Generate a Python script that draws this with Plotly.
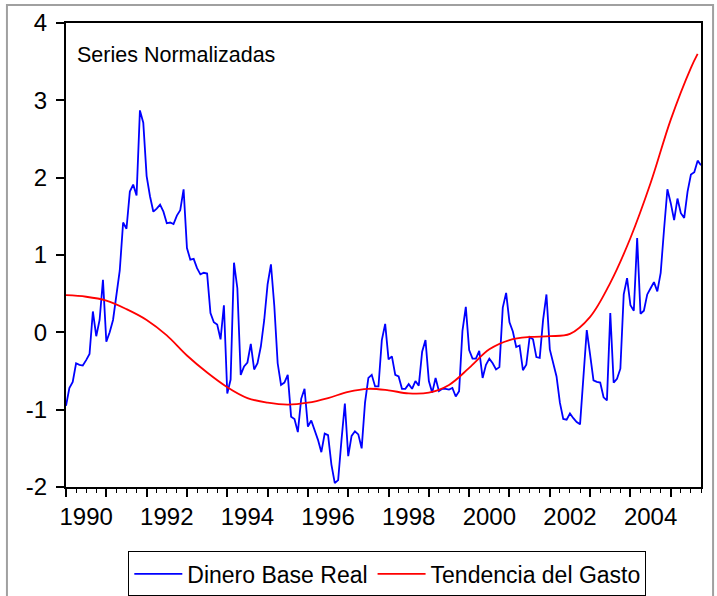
import plotly.graph_objects as go

# ---- data (monthly, starting 1990M01) ----
start_year = 1990
dinero_base_real = [
    -0.95, -0.72, -0.64, -0.40, -0.42, -0.43, -0.36, -0.28, 0.27, -0.05, 0.16, 0.68,
    -0.12, 0.00, 0.16, 0.45, 0.80, 1.42, 1.34, 1.82, 1.91, 1.77, 2.87, 2.71,
    2.02, 1.76, 1.56, 1.60, 1.65, 1.56, 1.41, 1.42, 1.40, 1.51, 1.58, 1.85,
    1.09, 0.94, 0.95, 0.83, 0.75, 0.77, 0.76, 0.25, 0.13, 0.10, -0.09, 0.35,
    -0.79, -0.61, 0.90, 0.57, -0.55, -0.44, -0.39, -0.15, -0.48, -0.40, -0.18, 0.16,
    0.62, 0.88, 0.34, -0.40, -0.68, -0.65, -0.55, -1.09, -1.12, -1.29, -0.86, -0.73,
    -1.22, -1.14, -1.26, -1.39, -1.55, -1.31, -1.33, -1.71, -1.95, -1.91, -1.39, -0.92,
    -1.60, -1.34, -1.28, -1.32, -1.50, -0.91, -0.59, -0.55, -0.70, -0.70, -0.10, 0.11,
    -0.35, -0.31, -0.55, -0.57, -0.73, -0.73, -0.67, -0.73, -0.63, -0.69, -0.25, -0.10,
    -0.63, -0.78, -0.59, -0.76, -0.73, -0.73, -0.74, -0.72, -0.83, -0.76, 0.02, 0.33,
    -0.23, -0.34, -0.34, -0.24, -0.59, -0.42, -0.34, -0.40, -0.48, -0.45, 0.32, 0.51,
    0.13, 0.01, -0.19, -0.17, -0.49, -0.42, -0.06, -0.09, -0.32, -0.33, 0.16, 0.49,
    -0.22, -0.40, -0.57, -0.91, -1.12, -1.13, -1.05, -1.11, -1.16, -1.19, -0.57, 0.03,
    -0.29, -0.62, -0.64, -0.65, -0.84, -0.88, 0.25, -0.65, -0.60, -0.47, 0.49, 0.70,
    0.35, 0.28, 1.22, 0.24, 0.28, 0.49, 0.57, 0.65, 0.53, 0.77, 1.33, 1.85,
    1.67, 1.45, 1.73, 1.54, 1.48, 1.82, 2.04, 2.07, 2.22, 2.16,
]
# trend read at selected months (month index from 1990M01)
tendencia_meses = [0, 6, 12, 18, 24, 30, 36, 42, 48, 54, 60, 66, 72, 78, 84, 90, 96,
                   102, 108, 114, 120, 126, 132, 138, 144, 150, 156, 162, 168, 174,
                   180, 186, 188]
tendencia_gasto = [0.48, 0.46, 0.41, 0.30, 0.16, -0.04, -0.30, -0.52, -0.71, -0.85,
                   -0.91, -0.935, -0.91, -0.85, -0.77, -0.73, -0.75, -0.79, -0.78,
                   -0.68, -0.46, -0.22, -0.10, -0.06, -0.05, -0.02, 0.20, 0.64, 1.22,
                   1.93, 2.75, 3.42, 3.60]
year_label_vals = [1990, 1992, 1994, 1996, 1998, 2000, 2002, 2004]
y_ticks = [-2, -1, 0, 1, 2, 3, 4]

x_blue = [start_year + i / 12 for i in range(len(dinero_base_real))]
x_red = [start_year + m / 12 for m in tendencia_meses]
x_end = x_blue[-1]

FONT = "Liberation Sans, Arial, sans-serif"

fig = go.Figure()
fig.add_trace(go.Scatter(x=x_blue, y=dinero_base_real, mode="lines",
                         name="Dinero Base Real",
                         line=dict(color="#0000FF", width=1.8)))
fig.add_trace(go.Scatter(x=x_red, y=tendencia_gasto, mode="lines",
                         name="Tendencia del Gasto",
                         line=dict(color="#FF0000", width=1.8, shape="spline",
                                   smoothing=1.0)))
# invisible trace to host the label axis
fig.add_trace(go.Scatter(x=[start_year, x_end], y=[None, None], xaxis="x2",
                         showlegend=False, hoverinfo="skip"))

fig.update_layout(
    width=717, height=596, autosize=False,
    margin=dict(l=66, r=16, t=23, b=109, autoexpand=False),
    paper_bgcolor="white", plot_bgcolor="white",
    font=dict(family=FONT, color="black", size=22),
    showlegend=True,
    legend=dict(orientation="h", x=0.506, xanchor="center", y=-0.139,
                yanchor="top", bordercolor="black", borderwidth=1,
                font=dict(size=23, family=FONT), bgcolor="white",
                itemwidth=48, tracegroupgap=0),
    xaxis=dict(range=[start_year, x_end], tickmode="array",
               tickvals=list(range(1990, 2006)), ticks="outside", ticklen=8,
               tickwidth=1.5, tickcolor="black", showticklabels=False,
               showgrid=False, zeroline=False, showline=True, linecolor="black",
               linewidth=2, mirror=True,
               minor=dict(dtick=0.25, tick0=1990, ticks="outside", ticklen=4,
                          tickwidth=1, tickcolor="black", showgrid=False)),
    xaxis2=dict(range=[start_year, x_end], overlaying="x", anchor="y",
                side="bottom", tickmode="array",
                tickvals=[v + 0.5 for v in year_label_vals],
                ticktext=[str(v) for v in year_label_vals],
                ticks="outside", ticklen=8, tickcolor="rgba(0,0,0,0)",
                showgrid=False, zeroline=False, showline=False,
                tickfont=dict(size=24, family=FONT)),
    yaxis=dict(range=[-2, 4], tickmode="array", tickvals=y_ticks,
               ticktext=[str(v) for v in y_ticks], ticks="outside", ticklen=8,
               tickwidth=1.5, tickcolor="black", showgrid=False, zeroline=False,
               showline=True, linecolor="black", linewidth=2, mirror=True,
               ticklabelstandoff=4,
               tickfont=dict(size=24, family=FONT)),
)

fig.add_annotation(text="Series Normalizadas", xref="paper", yref="paper",
                   x=0.014, y=0.931, xanchor="left", yanchor="middle",
                   showarrow=False, font=dict(size=21.5, family=FONT))

# outer grey frame of the graph window
fig.add_shape(type="rect", xref="paper", yref="paper",
              x0=-0.093, x1=1.019, y0=-0.25, y1=1.039,
              line=dict(color="#A0A0A0", width=2), layer="below")

fig.write_html("out.html",
               config={"displayModeBar": False},
               post_script="document.body.style.margin='0';"
                           "document.body.style.overflow='hidden';")
